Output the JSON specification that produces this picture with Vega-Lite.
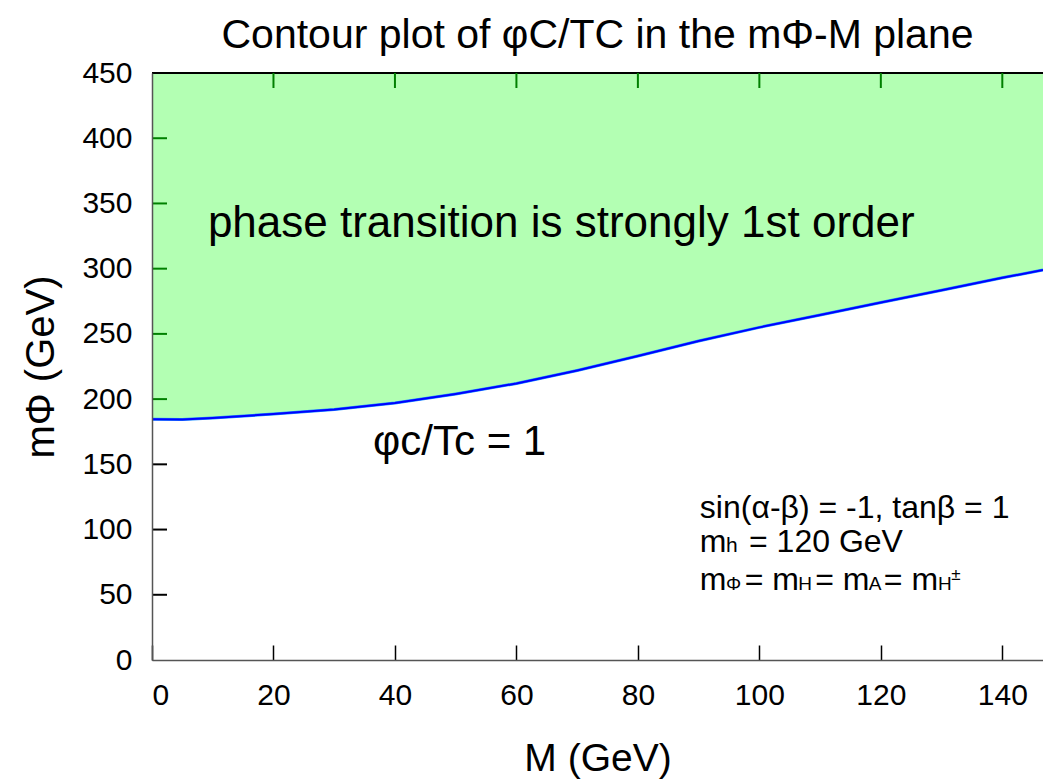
{
  "$schema": "https://vega.github.io/schema/vega-lite/v6.json",
  "width": 891,
  "height": 587,
  "autosize": "none",
  "padding": {"left": 152, "top": 73, "right": 0, "bottom": 121},
  "background": "white",
  "config": {
    "font": "Liberation Sans",
    "view": {"stroke": null},
    "axis": {"grid": false, "labelFont": "Liberation Sans", "titleFont": "Liberation Sans", "labelColor": "black", "titleColor": "black", "domainColor": "#555555", "tickColor": "black", "titleFontWeight": "normal"}
  },
  "title": {"text": "Contour plot of φC/TC in the mΦ-M plane", "fontSize": 41, "fontWeight": "normal", "font": "Liberation Sans", "anchor": "middle", "offset": 1, "color": "black"},
  "datasets": {
    "curve": [
      {"M": 0, "m": 184.5},
      {"M": 5, "m": 184.3},
      {"M": 10, "m": 185.5},
      {"M": 20, "m": 188.5},
      {"M": 30, "m": 192},
      {"M": 40, "m": 197},
      {"M": 50, "m": 204},
      {"M": 60, "m": 212},
      {"M": 70, "m": 222},
      {"M": 80, "m": 233},
      {"M": 90, "m": 244.5},
      {"M": 100, "m": 255},
      {"M": 110, "m": 264.5},
      {"M": 120, "m": 274},
      {"M": 130, "m": 283.5},
      {"M": 140, "m": 293},
      {"M": 146.7, "m": 299}
    ],
    "topticks": [
      {"M": 20, "m": 450}, {"M": 40, "m": 450}, {"M": 60, "m": 450}, {"M": 80, "m": 450},
      {"M": 100, "m": 450}, {"M": 120, "m": 450}, {"M": 140, "m": 450}
    ],
    "leftticks": [
      {"M": 0, "m": 50, "c": "black"}, {"M": 0, "m": 100, "c": "black"}, {"M": 0, "m": 150, "c": "black"},
      {"M": 0, "m": 200, "c": "#008000"}, {"M": 0, "m": 250, "c": "#008000"}, {"M": 0, "m": 300, "c": "#008000"},
      {"M": 0, "m": 350, "c": "#008000"}, {"M": 0, "m": 400, "c": "#008000"}
    ],
    "frame": [
      {"M": 0, "M2": 146.7, "m": 450}
    ],
    "labels": [
      {"M": 9.2, "m": 324.5, "t": "phase transition is strongly 1st order", "size": 44},
      {"M": 36.4, "m": 157.2, "t": "φc/Tc = 1", "size": 42},
      {"M": 90.2, "m": 108.9, "t": "sin(α-β) = -1, tanβ = 1", "size": 32},
      {"M": 90.2, "m": 82.8, "t": "m", "size": 32},
      {"M": 94.5, "m": 82.8, "t": "h", "size": 21},
      {"M": 98.3, "m": 82.8, "t": "= 120 GeV", "size": 32},
      {"M": 90.2, "m": 53.7, "t": "m", "size": 32},
      {"M": 94.5, "m": 53.7, "t": "Φ", "size": 19},
      {"M": 97.6, "m": 53.7, "t": "= m", "size": 32},
      {"M": 106.4, "m": 53.7, "t": "H", "size": 19},
      {"M": 109.2, "m": 53.7, "t": "= m", "size": 32},
      {"M": 118.0, "m": 53.7, "t": "A", "size": 19},
      {"M": 120.5, "m": 53.7, "t": "= m", "size": 32},
      {"M": 129.4, "m": 53.7, "t": "H", "size": 19},
      {"M": 131.6, "m": 61, "t": "±", "size": 17}
    ]
  },
  "layer": [
    {
      "data": {"name": "curve"},
      "mark": {"type": "area", "color": "#b3ffb3", "opacity": 1, "clip": true},
      "encoding": {
        "x": {"field": "M", "type": "quantitative", "scale": {"domain": [0, 146.7], "nice": false, "zero": false},
          "axis": {"orient": "bottom", "zindex": 1, "values": [0, 20, 40, 60, 80, 100, 120, 140], "tickSize": -15, "labelPadding": 35, "labelFontSize": 30, "title": "M (GeV)", "titleFontSize": 39, "titlePadding": 29, "domainWidth": 1.5, "tickWidth": 1.5}},
        "y": {"field": "m", "type": "quantitative", "scale": {"domain": [0, 450], "nice": false},
          "axis": {"orient": "left", "zindex": 1, "values": [0, 50, 100, 150, 200, 250, 300, 350, 400, 450], "tickSize": -15, "labelPadding": 35, "labelFontSize": 30, "title": "mΦ (GeV)", "titleFontSize": 40, "titlePadding": 20, "domainWidth": 1.5, "tickWidth": 2, "tickOpacity": 0}},
        "y2": {"datum": 450}
      }
    },
    {
      "data": {"name": "curve"},
      "mark": {"type": "line", "color": "#1e90ff", "strokeWidth": 3, "clip": true},
      "encoding": {
        "x": {"field": "M", "type": "quantitative"},
        "y": {"field": "m", "type": "quantitative"}
      }
    },
    {
      "data": {"name": "curve"},
      "mark": {"type": "line", "color": "#0000ff", "strokeWidth": 2, "clip": true},
      "encoding": {
        "x": {"field": "M", "type": "quantitative"},
        "y": {"field": "m", "type": "quantitative"}
      }
    },
    {
      "data": {"name": "frame"},
      "mark": {"type": "rule", "color": "black", "strokeWidth": 2, "clip": false},
      "encoding": {
        "x": {"field": "M", "type": "quantitative"},
        "x2": {"field": "M2"},
        "y": {"field": "m", "type": "quantitative"}
      }
    },
    {
      "data": {"name": "topticks"},
      "mark": {"type": "tick", "orient": "vertical", "color": "#008000", "size": 30, "thickness": 2, "opacity": 1, "clip": true},
      "encoding": {
        "x": {"field": "M", "type": "quantitative"},
        "y": {"field": "m", "type": "quantitative"}
      }
    },
    {
      "data": {"name": "leftticks"},
      "mark": {"type": "tick", "orient": "horizontal", "size": 30, "thickness": 2, "opacity": 1, "clip": true},
      "encoding": {
        "x": {"field": "M", "type": "quantitative"},
        "y": {"field": "m", "type": "quantitative"},
        "color": {"field": "c", "type": "nominal", "scale": null}
      }
    },
    {
      "data": {"name": "labels"},
      "mark": {"type": "text", "baseline": "alphabetic", "align": "left", "color": "black", "font": "Liberation Sans"},
      "encoding": {
        "x": {"field": "M", "type": "quantitative"},
        "y": {"field": "m", "type": "quantitative"},
        "text": {"field": "t"},
        "size": {"field": "size", "type": "quantitative", "scale": null}
      }
    }
  ]
}
